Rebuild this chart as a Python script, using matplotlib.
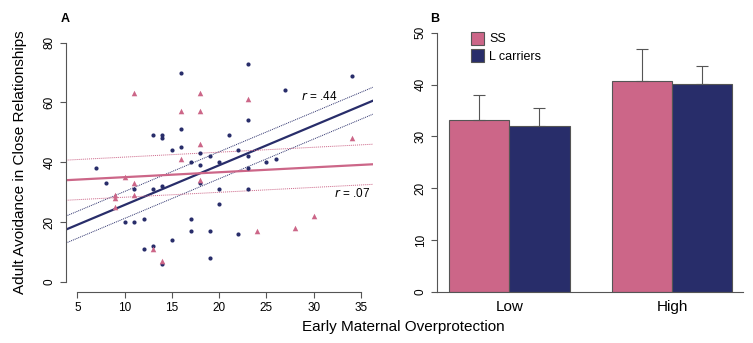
import numpy as np
import matplotlib
matplotlib.use("Agg")
import matplotlib.pyplot as plt

plt.rcParams["font.family"] = ["Liberation Sans", "DejaVu Sans"]

PINK = "#CC6688"
NAVY = "#282D6A"
AXC = "#555555"

# Panel A: scatter data (overprotection, avoidance)
l_x = [7, 8, 10, 11, 11, 12, 12, 13, 13, 13, 14, 14, 14, 14, 15, 15, 16, 16, 16,
       17, 17, 17, 18, 18, 18, 19, 19, 19, 20, 20, 20, 21, 22, 22, 23, 23, 23, 23,
       23, 25, 26, 27, 34]
l_y = [38, 33, 20, 20, 31, 21, 11, 49, 31, 12, 49, 48, 32, 6, 44, 14, 70, 51, 45,
       40, 21, 17, 43, 39, 33, 42, 17, 8, 40, 31, 26, 49, 44, 16, 73, 54, 42, 38,
       31, 40, 41, 64, 69]
ss_x = [9, 9, 9, 10, 11, 11, 11, 13, 14, 16, 16, 18, 18, 18, 18, 23, 24, 28, 30, 34]
ss_y = [29, 28, 25, 35, 63, 33, 29, 11, 7, 57, 41, 63, 57, 46, 34, 61, 17, 18, 22, 48]
band_l = 4.5
band_ss = 6.7

# Panel B: group means and upper error
groups = ["Low", "High"]
ss_means = [33.2, 40.7]
l_means = [32.0, 40.1]
ss_err = [4.7, 6.2]
l_err = [3.5, 3.4]

fig = plt.figure(figsize=(7.53, 3.43), dpi=100)

# ---- Panel A ----
ax = fig.add_axes([0.0873, 0.1487, 0.408, 0.756])
xl = (3.77, 36.27)
xs = np.array(xl)
for x, y, c, bw in [(l_x, l_y, NAVY, band_l), (ss_x, ss_y, PINK, band_ss)]:
    b, a = np.polyfit(x, y, 1)
    ax.plot(xs, a + b * xs, color=c, lw=1.6)
    ax.plot(xs, a + b * xs + bw, color=c, lw=0.7, ls=(0, (1, 1)))
    ax.plot(xs, a + b * xs - bw, color=c, lw=0.7, ls=(0, (1, 1)))
ax.scatter(l_x, l_y, s=9, color=NAVY, zorder=3, linewidths=0)
ax.scatter(ss_x, ss_y, s=16, marker="^", color=PINK, zorder=3, linewidths=0)
ax.text(28.7, 62, r"$\it{r}$ = .44", fontsize=8.5, ha="left", va="center")
ax.text(32.1, 29.6, r"$\it{r}$ = .07", fontsize=8.5, ha="left", va="center")
ax.set_xlim(*xl)
ax.set_ylim(-3.3, 83.3)
ax.set_xticks([5, 10, 15, 20, 25, 30, 35])
ax.set_yticks([0, 20, 40, 60, 80])
ax.spines["left"].set_bounds(0, 80)
ax.spines["bottom"].set_bounds(5, 35)
ax.set_ylabel("Adult Avoidance in Close Relationships", fontsize=11, labelpad=12)

# ---- Panel B ----
bx = fig.add_axes([0.5807, 0.1496, 0.406, 0.755])
centers = np.array([2.0, 4.7])
bx.bar(centers - 0.5, ss_means, width=1, color=PINK, edgecolor=AXC, lw=0.8, label="SS")
bx.bar(centers + 0.5, l_means, width=1, color=NAVY, edgecolor=AXC, lw=0.8, label="L carriers")
bx.errorbar(centers - 0.5, ss_means, yerr=[[0, 0], ss_err], fmt="none",
            ecolor=AXC, elinewidth=0.8, capsize=4, capthick=0.8, zorder=1)
bx.errorbar(centers + 0.5, l_means, yerr=[[0, 0], l_err], fmt="none",
            ecolor=AXC, elinewidth=0.8, capsize=4, capthick=0.8, zorder=1)
bx.set_xlim(0.806, 5.876)
bx.set_ylim(0, 50)
bx.set_yticks([0, 10, 20, 30, 40, 50])
bx.set_xticks(centers)
bx.set_xticklabels(groups, fontsize=11)
bx.tick_params(axis="x", length=0, pad=6)
bx.spines["left"].set_bounds(0, 50)
bx.legend(loc="upper left", bbox_to_anchor=(0.075, 1.047), frameon=False, fontsize=9,
          handlelength=1.0, handleheight=1.2, handletextpad=0.4, labelspacing=0.3)

for a in (ax, bx):
    for s in ("top", "right"):
        a.spines[s].set_visible(False)
    for s in ("left", "bottom"):
        a.spines[s].set_color(AXC)
        a.spines[s].set_linewidth(0.8)
    a.tick_params(axis="y", labelsize=8.5, color=AXC, length=4, width=0.8)
    for t in a.get_yticklabels():
        t.set_rotation(90)
        t.set_va("center")
ax.tick_params(axis="x", labelsize=8.5, color=AXC, length=4, width=0.8)

fig.text(0.081, 0.935, "A", fontsize=9, fontweight="bold")
fig.text(0.571, 0.935, "B", fontsize=9, fontweight="bold")
fig.text(0.535, 0.035, "Early Maternal Overprotection", fontsize=11, ha="center")

fig.savefig("out.png", dpi=100)
